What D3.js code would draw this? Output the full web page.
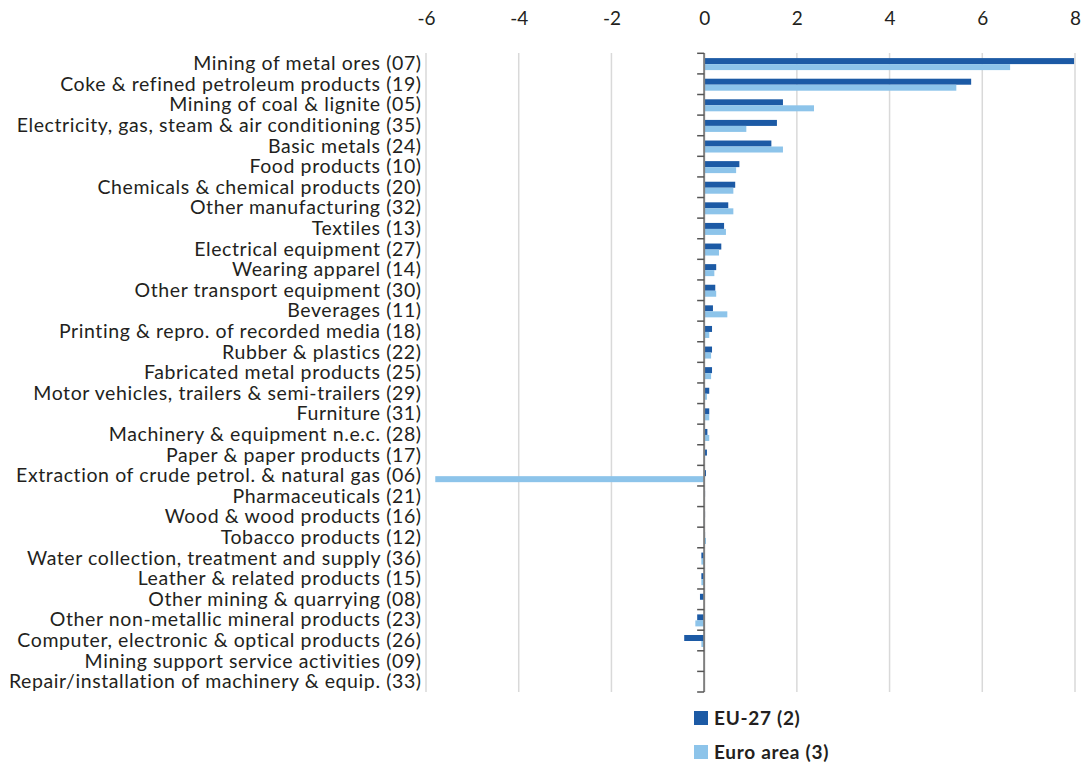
<!DOCTYPE html>
<html><head><meta charset="utf-8">
<script src="https://cdn.jsdelivr.net/npm/d3@7"></script>
<style>body{margin:0;background:#fff}svg{display:block}text{font-family:Lato,"Open Sans",sans-serif;fill:#231f20}</style>
</head><body><svg id="c" width="1084" height="764"></svg>
<script>
const categories = ["Mining of metal ores (07)","Coke & refined petroleum products (19)","Mining of coal & lignite (05)","Electricity, gas, steam & air conditioning (35)","Basic metals (24)","Food products (10)","Chemicals & chemical products (20)","Other manufacturing (32)","Textiles (13)","Electrical equipment (27)","Wearing apparel (14)","Other transport equipment (30)","Beverages (11)","Printing & repro. of recorded media (18)","Rubber & plastics (22)","Fabricated metal products (25)","Motor vehicles, trailers & semi-trailers (29)","Furniture (31)","Machinery & equipment n.e.c. (28)","Paper & paper products (17)","Extraction of crude petrol. & natural gas (06)","Pharmaceuticals (21)","Wood & wood products (16)","Tobacco products (12)","Water collection, treatment and supply (36)","Leather & related products (15)","Other mining & quarrying (08)","Other non-metallic mineral products (23)","Computer, electronic & optical products (26)","Mining support service activities (09)","Repair/installation of machinery & equip. (33)"];
const eu27 = [7.98,5.76,1.70,1.57,1.45,0.76,0.67,0.52,0.43,0.37,0.26,0.24,0.19,0.17,0.17,0.17,0.11,0.11,0.07,0.06,0.04,0.02,0.02,0.02,-0.06,-0.06,-0.09,-0.15,-0.43,0,0];
const euroArea = [6.60,5.44,2.37,0.91,1.70,0.69,0.63,0.63,0.47,0.32,0.22,0.26,0.50,0.11,0.15,0.15,0.06,0.11,0.11,0.01,-5.80,0.01,-0.01,0.04,-0.06,-0.06,0,-0.19,-0.06,0,0];
const tickValues = [-6,-4,-2,0,2,4,6,8];
const seriesNames = ["EU-27 (2)","Euro area (3)"];
const colors = ["#1c5aa5","#8dc4ea"];

const svg = d3.select("#c");
const x = d3.scaleLinear().domain([-6,8]).range([426,1075]);
const y = d3.scaleBand().domain(categories).range([53.3,692]);
const barH = 6;

// label font: fixed size, letter-spacing fitted so the longest label spans ~413px
const fs = 19.5;
const longest = categories[categories.length-1];
const probe = svg.append("text").attr("font-size",fs).text(longest);
const w = probe.node().getComputedTextLength();
probe.remove();
const ls = Math.max(0, (413 - w) / longest.length);

// gridlines
svg.append("g").selectAll("line").data(tickValues.filter(d=>d!==0)).join("line")
  .attr("x1",d=>x(d)).attr("x2",d=>x(d)).attr("y1",53).attr("y2",692)
  .attr("stroke","#d9d9d9").attr("stroke-width",1.5);

// top tick labels
const xa = svg.append("g").attr("transform","translate(0,25)")
  .call(d3.axisTop(x).tickValues(tickValues).tickSize(0).tickPadding(0).tickFormat(d=>String(d)));
xa.select(".domain").remove();
xa.selectAll("text").attr("font-size",19).attr("font-family","Lato, sans-serif").attr("fill","#231f20");

// bars
const series = [eu27, euroArea];
series.forEach((vals,si)=>{
  svg.append("g").selectAll("rect").data(categories).join("rect")
    .attr("x",(c,i)=>x(Math.min(0,vals[i])))
    .attr("width",(c,i)=>Math.abs(x(vals[i])-x(0)))
    .attr("y",c=>y(c)+y.bandwidth()/2 - barH + 0.5 + si*barH)
    .attr("height",barH)
    .attr("fill",colors[si]);
});

// category axis at zero
const ya = svg.append("g").attr("transform",`translate(${x(0)},0)`);
ya.append("line").attr("x1",0).attr("x2",0).attr("y1",53).attr("y2",692).attr("stroke","#7f7f7f").attr("stroke-width",2);
const bounds = categories.map(c=>y(c)).concat([y.range()[1]]);
ya.selectAll("line.t").data(bounds).join("line").attr("class","t")
  .attr("x1",-7).attr("x2",0).attr("y1",d=>d).attr("y2",d=>d)
  .attr("stroke","#555").attr("stroke-width",1.5);

// category labels
svg.append("g").selectAll("text").data(categories).join("text")
  .attr("x",421 + ls).attr("y",c=>y(c)+y.bandwidth()/2+6.5)
  .attr("text-anchor","end").attr("font-size",fs).attr("letter-spacing",ls).text(d=>d);

// legend
const lg = svg.append("g");
seriesNames.forEach((n,i)=>{
  lg.append("rect").attr("x",694).attr("y",711+i*34).attr("width",14).attr("height",14).attr("fill",colors[i]);
  lg.append("text").attr("x",714).attr("y",725+i*34).attr("font-size",19).attr("font-weight","bold").attr("letter-spacing",0.7).text(n);
});
</script></body></html>
